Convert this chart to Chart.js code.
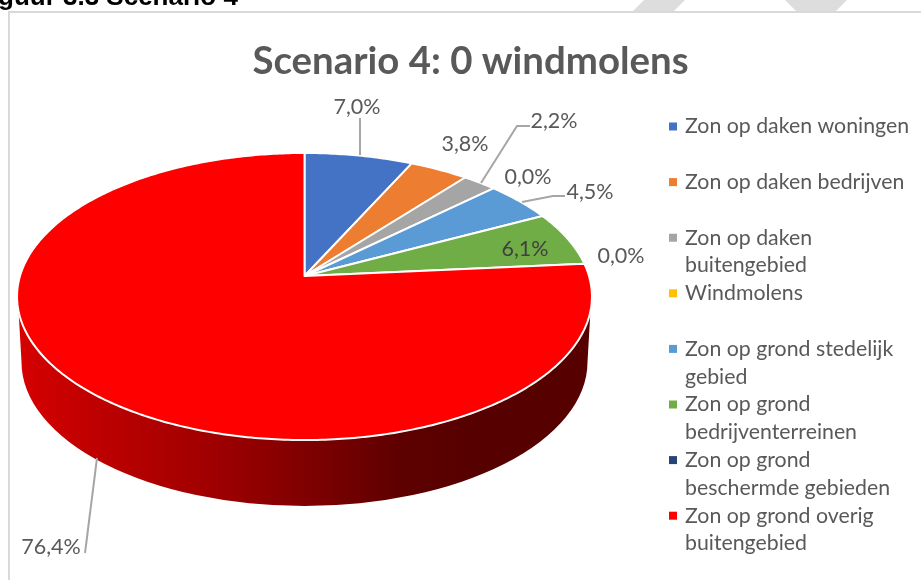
<!DOCTYPE html>
<html>
<head>
<meta charset="utf-8">
<title>Scenario 4</title>
<script src="https://cdn.jsdelivr.net/npm/chart.js@4"></script>
<style>
  html, body { margin: 0; padding: 0; background: #fff; overflow: hidden; }
  canvas { display: block; }
</style>
</head>
<body>
<canvas id="pie" width="921" height="580"></canvas>
<script>
const heading = "guur 3.3 Scenario 4";
const chartTitle = "Scenario 4: 0 windmolens";
const categories = [
  "Zon op daken woningen", "Zon op daken bedrijven", "Zon op daken buitengebied", "Windmolens",
  "Zon op grond stedelijk gebied", "Zon op grond bedrijventerreinen",
  "Zon op grond beschermde gebieden", "Zon op grond overig buitengebied"
];
const legendLines = [
  ["Zon op daken woningen"], ["Zon op daken bedrijven"], ["Zon op daken", "buitengebied"], ["Windmolens"],
  ["Zon op grond stedelijk", "gebied"], ["Zon op grond", "bedrijventerreinen"],
  ["Zon op grond", "beschermde gebieden"], ["Zon op grond overig", "buitengebied"]
];
const shares = [7.0, 3.8, 2.2, 0.0, 4.5, 6.1, 0.0, 76.4];
const colors = ["#4472C4", "#ED7D31", "#A5A5A5", "#FFC000", "#5B9BD5", "#70AD47", "#264478", "#FF0000"];

// layout of the tilted pie (excel style 3d, apex sits above the ellipse centre)
const APEX = { x: 304.5, y: 276 };
const TILT = { a: 284.5, b: 140.6, k: 0.1429 };
const WALL = { cy: 362, rx: 283, ry: 144, top: 310, grey: "#a6a6a6" };
const labelPos = [[357,107],[465,144],[554,121],[528,177],[590,192],[525,249],[621,256],[51,547]];
const leaders = {
  0: [[360,118],[360,155]],
  2: [[530,126],[517,126],[481,183]],
  4: [[565,196],[553,196],[522,202]],
  7: [[85,553],[97,458]]
};
const FONT = "Lato, 'Open Sans', sans-serif";

const fmt = v => v.toFixed(1).replace(".", ",");

function project(t){
  const u = Math.cos(t), v = Math.sin(t), d = 1 - TILT.k * v;
  return [APEX.x + TILT.a * u / d, APEX.y + TILT.b * v / d];
}

function drawWall(ctx){
  const cx = APEX.x;
  const g = ctx.createLinearGradient(20, 0, 590, 0);
  g.addColorStop(0, "#d60000");
  g.addColorStop(0.14, "#bd0000");
  g.addColorStop(0.32, "#a20000");
  g.addColorStop(0.5, "#800000");
  g.addColorStop(0.67, "#5e0000");
  g.addColorStop(0.8, "#560000");
  g.addColorStop(1, "#560000");
  ctx.beginPath();
  ctx.moveTo(cx - 286, WALL.top);
  ctx.lineTo(cx - WALL.rx, WALL.cy);
  ctx.ellipse(cx, WALL.cy, WALL.rx, WALL.ry, 0, Math.PI, 0, true);
  ctx.lineTo(cx + 286, WALL.top);
  ctx.closePath();
  ctx.fillStyle = g;
  ctx.fill();
}

function drawSlice(ctx, arc){
  const { startAngle, endAngle } = arc.getProps(["startAngle", "endAngle"], true);
  if (endAngle - startAngle <= 0) return;
  const steps = Math.max(2, Math.ceil((endAngle - startAngle) * 80));
  ctx.beginPath();
  ctx.moveTo(APEX.x, APEX.y);
  for (let i = 0; i <= steps; i++){
    const p = project(startAngle + (endAngle - startAngle) * i / steps);
    ctx.lineTo(p[0], p[1]);
  }
  ctx.closePath();
  ctx.fillStyle = arc.options.backgroundColor;
  ctx.fill();
  ctx.lineJoin = "round";
  ctx.lineWidth = arc.options.borderWidth;
  ctx.strokeStyle = arc.options.borderColor;
  ctx.stroke();
}

const tiltedPie = {
  id: "tiltedPie",
  beforeDraw(chart){
    const ctx = chart.ctx;
    ctx.save();
    ctx.fillStyle = "#fff";
    ctx.fillRect(0, 0, chart.width, chart.height);
    // watermark stripes cut by the frame
    ctx.fillStyle = "#dddddd";
    [[[644,0],[685,0],[673,12],[632,12]], [[785,0],[847,0],[835,12],[797,12]]].forEach(poly => {
      ctx.beginPath();
      poly.forEach((p, i) => i ? ctx.lineTo(p[0], p[1]) : ctx.moveTo(p[0], p[1]));
      ctx.closePath();
      ctx.fill();
    });
    // frame, only top and left are in view
    ctx.strokeStyle = "#d9d9d9";
    ctx.lineWidth = 2;
    ctx.beginPath();
    ctx.moveTo(9, chart.height);
    ctx.lineTo(9, 12);
    ctx.lineTo(chart.width, 12);
    ctx.stroke();
    ctx.fillStyle = "#000";
    ctx.font = "bold 26px 'Liberation Sans', Arial, sans-serif";
    ctx.textAlign = "left";
    ctx.textBaseline = "alphabetic";
    ctx.fillText(heading, -2, 5);
    ctx.restore();
  },
  beforeDatasetDraw(chart, args){
    const ctx = chart.ctx;
    ctx.save();
    drawWall(ctx);
    args.meta.data.forEach(arc => drawSlice(ctx, arc));
    ctx.restore();
    return false;
  },
  afterDatasetsDraw(chart){
    const ctx = chart.ctx;
    ctx.save();
    // leader lines
    ctx.strokeStyle = WALL.grey;
    ctx.lineWidth = 2;
    Object.values(leaders).forEach(line => {
      ctx.beginPath();
      line.forEach((p, i) => i ? ctx.lineTo(p[0], p[1]) : ctx.moveTo(p[0], p[1]));
      ctx.stroke();
    });
    // value labels
    ctx.font = "21.5px " + FONT;
    ctx.textAlign = "center";
    ctx.textBaseline = "middle";
    shares.forEach((v, i) => {
      ctx.fillStyle = i === 5 ? "#404040" : "#595959";
      ctx.fillText(fmt(v) + "%", labelPos[i][0], labelPos[i][1]);
    });
    // legend, every entry takes two rows
    ctx.font = "21.3px " + FONT;
    ctx.textAlign = "left";
    legendLines.forEach((lines, i) => {
      const y = 126.5 + 55.6 * i;
      ctx.fillStyle = colors[i];
      ctx.fillRect(669, y - 4, 8, 8);
      ctx.fillStyle = "#595959";
      lines.forEach((txt, j) => ctx.fillText(txt, 685, y + j * 27.8));
    });
    ctx.restore();
  }
};

new Chart(document.getElementById("pie"), {
  type: "pie",
  data: {
    labels: categories,
    datasets: [{ data: shares, backgroundColor: colors, borderColor: "#fff", borderWidth: 2 }]
  },
  options: {
    responsive: false,
    animation: false,
    layout: { padding: { left: 20 } },
    plugins: {
      legend: { display: false },
      tooltip: { enabled: false },
      title: {
        display: true, text: chartTitle, color: "#595959",
        font: { family: FONT, size: 38.4, weight: "bold" },
        padding: { top: 39, bottom: 10 }
      }
    }
  },
  plugins: [tiltedPie]
});
</script>
</body>
</html>
